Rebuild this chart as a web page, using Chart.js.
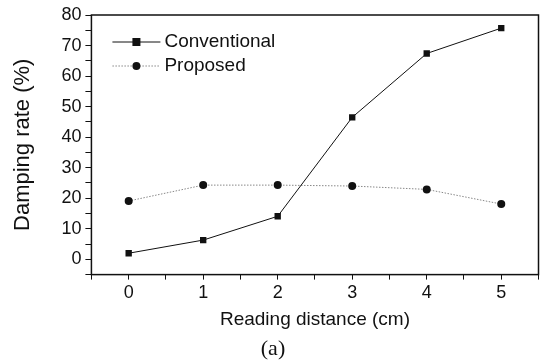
<!DOCTYPE html>
<html>
<head>
<meta charset="utf-8">
<script src="https://cdn.jsdelivr.net/npm/chart.js@4.4.0/dist/chart.umd.min.js"></script>
<style>
  html, body { margin: 0; padding: 0; background: #fff; }
  #wrap { width: 543px; height: 361px; }
</style>
</head>
<body>
<div id="wrap"><canvas id="myChart" width="543" height="361"></canvas></div>
<script>
const distances = [0, 1, 2, 3, 4, 5];
const conventional = [2.0, 6.3, 14.1, 46.5, 67.4, 75.7];
const proposed = [19.1, 24.3, 24.3, 24.0, 22.9, 18.1];
const seriesNames = ['Conventional', 'Proposed'];

const FONT = 'Liberation Sans, Arial, sans-serif';

// frame, legend and "(a)" caption
const extras = {
    id: 'extras',
    afterDraw(chart) {
        const c = chart.ctx;
        const a = chart.chartArea;
        c.save();
        c.strokeStyle = '#111';
        c.lineWidth = 1.5;
        c.strokeRect(a.left, a.top, a.right - a.left, a.bottom - a.top);

        // legend
        c.font = '19px ' + FONT;
        c.textBaseline = 'middle';
        c.fillStyle = '#111';
        const lx = a.left + 21, ly = a.top + 27;
        c.lineWidth = 1;
        c.beginPath(); c.moveTo(lx, ly); c.lineTo(lx + 48, ly); c.stroke();
        c.fillRect(lx + 20, ly - 4, 8, 8);
        c.fillText(seriesNames[0], lx + 52, ly);

        c.strokeStyle = '#888';
        c.setLineDash([1.5, 1.5]);
        c.beginPath(); c.moveTo(lx, ly + 24); c.lineTo(lx + 48, ly + 24); c.stroke();
        c.setLineDash([]);
        c.beginPath(); c.arc(lx + 24, ly + 24, 4, 0, Math.PI * 2); c.fill();
        c.fillText(seriesNames[1], lx + 52, ly + 24);

        // caption
        c.font = '22px Liberation Serif, Times New Roman, serif';
        c.textAlign = 'center';
        c.fillText('(a)', 273, 349);
        c.restore();
    }
};

const ctx = document.getElementById('myChart');
const myChart = new Chart(ctx, {
    type: 'line',
    data: {
        datasets: [{
            label: seriesNames[0],
            data: distances.map((d, i) => ({ x: d, y: conventional[i] })),
            borderColor: '#111',
            backgroundColor: '#111',
            borderWidth: 1,
            pointStyle: 'rect',
            pointRadius: 4.5,
            pointBorderWidth: 0
        }, {
            label: seriesNames[1],
            data: distances.map((d, i) => ({ x: d, y: proposed[i] })),
            borderColor: '#888',
            backgroundColor: '#111',
            borderWidth: 1,
            borderDash: [1.5, 1.5],
            pointStyle: 'circle',
            pointRadius: 4,
            pointBorderWidth: 0
        }]
    },
    plugins: [extras],
    options: {
        responsive: false,
        animation: false,
        layout: { padding: { top: 15, right: 2, left: 10, bottom: 30 } },
        plugins: {
            legend: { display: false },
            tooltip: { enabled: false }
        },
        scales: {
            x: {
                type: 'linear',
                min: -0.5,
                max: 5.5,
                ticks: {
                    stepSize: 0.5,
                    autoSkip: false,
                    color: '#111',
                    font: { family: FONT, size: 18 },
                    padding: 3,
                    maxRotation: 0,
                    callback: v => Number.isInteger(v) ? v : ''
                },
                grid: { drawOnChartArea: false, color: '#111', tickLength: 5, lineWidth: 1 },
                border: { display: false },
                title: {
                    display: true,
                    text: 'Reading distance (cm)',
                    color: '#111',
                    font: { family: FONT, size: 19 },
                    padding: { top: 1, bottom: 0 }
                }
            },
            y: {
                min: -5,
                max: 80,
                ticks: {
                    stepSize: 5,
                    autoSkip: false,
                    color: '#111',
                    font: { family: FONT, size: 18 },
                    padding: 4,
                    callback: v => v % 10 === 0 ? String(v) : ''
                },
                grid: { drawOnChartArea: false, color: '#111', tickLength: 6, lineWidth: 1 },
                border: { display: false },
                title: {
                    display: true,
                    text: 'Damping rate (%)',
                    color: '#111',
                    font: { family: FONT, size: 22 },
                    padding: { top: 0, bottom: 21 }
                }
            }
        }
    }
});
</script>
</body>
</html>
